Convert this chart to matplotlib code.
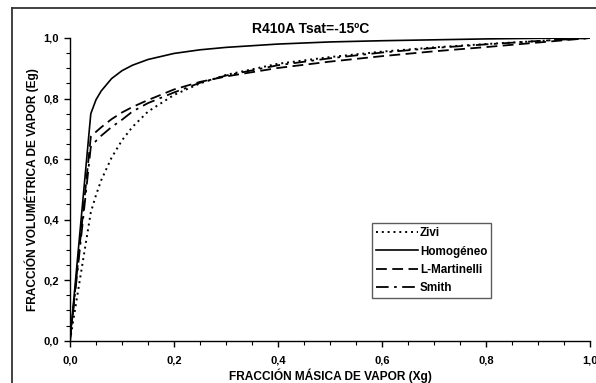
import matplotlib
matplotlib.use("Agg")
import matplotlib.pyplot as plt
from matplotlib.lines import Line2D
from matplotlib.ticker import MultipleLocator, FuncFormatter

# ---- data ----
xg = [0, 0.04, 0.05, 0.06, 0.08, 0.10, 0.12, 0.15, 0.20, 0.25, 0.30, 0.40, 0.50, 0.60, 0.70, 0.80, 0.90, 1.00]
zivi = [0, 0.424, 0.481, 0.530, 0.605, 0.662, 0.706, 0.757, 0.812, 0.850, 0.878, 0.915, 0.937, 0.955, 0.969, 0.980, 0.990, 1.0]
homogeneo = [0, 0.750, 0.796, 0.825, 0.866, 0.892, 0.910, 0.929, 0.949, 0.961, 0.969, 0.980, 0.987, 0.991, 0.994, 0.997, 0.999, 1.0]
l_martinelli = [0, 0.674, 0.690, 0.705, 0.732, 0.754, 0.772, 0.795, 0.830, 0.855, 0.873, 0.901, 0.922, 0.940, 0.956, 0.970, 0.985, 1.0]
smith = [0, 0.640, 0.660, 0.677, 0.706, 0.730, 0.757, 0.785, 0.820, 0.852, 0.876, 0.910, 0.933, 0.952, 0.967, 0.979, 0.990, 1.0]

series_labels = ["Zivi", "Homogéneo", "L-Martinelli", "Smith"]
title = "R410A Tsat=-15ºC"
xlabel = "FRACCIÓN MÁSICA DE VAPOR (Xg)"
ylabel = "FRACCIÓN VOLUMÉTRICA DE VAPOR (Eg)"

plt.rcParams['font.family'] = ['Liberation Sans', 'DejaVu Sans']
plt.rcParams['font.weight'] = 'bold'

W, H = 596, 383
fig = plt.figure(figsize=(W / 100, H / 100), dpi=100)
ax = fig.add_axes([70 / W, 1 - 340.7 / H, 520 / W, 302.7 / H])

ax.plot(xg, zivi, color='black', lw=1.4, linestyle=(0, (1, 2)), label=series_labels[0])
ax.plot(xg, homogeneo, color='black', lw=1.2, linestyle='-', label=series_labels[1])
ax.plot(xg, l_martinelli, color='black', lw=1.3, linestyle=(0, (6, 3)), label=series_labels[2])
ax.plot(xg, smith, color='black', lw=1.3, linestyle=(0, (7, 3, 1.5, 3)), label=series_labels[3])

ax.set_xlim(0, 1)
ax.set_ylim(0, 1)
for s in ['top', 'right']:
    ax.spines[s].set_visible(False)
for s in ['left', 'bottom']:
    ax.spines[s].set_linewidth(1.0)
    ax.spines[s].set_color('black')

ax.xaxis.set_major_locator(MultipleLocator(0.2))
ax.xaxis.set_minor_locator(MultipleLocator(0.05))
ax.yaxis.set_major_locator(MultipleLocator(0.2))
ax.yaxis.set_minor_locator(MultipleLocator(0.05))
fmt = FuncFormatter(lambda v, p: f"{v:.1f}".replace('.', ','))
ax.xaxis.set_major_formatter(fmt)
ax.yaxis.set_major_formatter(fmt)
ax.tick_params(which='major', direction='out', length=4, width=1, labelsize=8, pad=4)
ax.tick_params(which='minor', direction='out', length=3, width=0.8)
for lab in ax.get_xticklabels() + ax.get_yticklabels():
    lab.set_fontweight('bold')
ax.tick_params(axis='x', which='major', pad=7)

fig.text(311 / W, 1 - 29 / H, title, fontsize=10, fontweight='bold', ha='center', va='center')
ax.set_xlabel(xlabel, fontsize=8.6, fontweight='bold', labelpad=2)
ax.set_ylabel(ylabel, fontsize=8.6, fontweight='bold', labelpad=3)

leg = ax.legend(loc='upper left', bbox_to_anchor=((372 - 70) / 520, (340.7 - 223) / 302.7),
                frameon=True, fancybox=False, fontsize=8.4, handlelength=3.6,
                handletextpad=0.15, labelspacing=0.55, borderpad=0.35, borderaxespad=0)
leg.get_frame().set_edgecolor('#333333')
leg.get_frame().set_linewidth(1.0)
for t in leg.get_texts():
    t.set_fontweight('bold')

# outer border (top and left only, as in the reference)
fig.add_artist(Line2D([12 / W, 1], [1 - 7.5 / H, 1 - 7.5 / H], transform=fig.transFigure,
                      color='#333333', lw=1.3))
fig.add_artist(Line2D([12 / W, 12 / W], [0, 1 - 7.5 / H], transform=fig.transFigure,
                      color='#333333', lw=1.3))

fig.savefig("out.png", dpi=100)
